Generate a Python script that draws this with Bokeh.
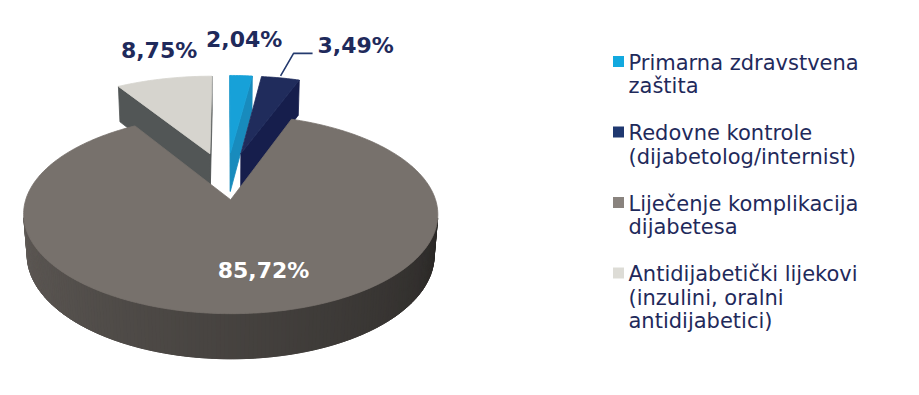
import numpy as np
from bokeh.plotting import figure
from bokeh.models import Range1d, ColumnDataSource
from bokeh.embed import file_html
from bokeh.resources import INLINE
from bokeh.core.properties import value

# ---------------- data ----------------
categories = ["Primarna zdravstvena zaštita",
              "Redovne kontrole (dijabetolog/internist)",
              "Liječenje komplikacija dijabetesa",
              "Antidijabetički lijekovi (inzulini, oralni antidijabetici)"]
shares = [2.04, 3.49, 85.72, 8.75]
share_labels = ["2,04%", "3,49%", "85,72%", "8,75%"]
legend_lines = [["Primarna zdravstvena", "zaštita"],
                ["Redovne kontrole", "(dijabetolog/internist)"],
                ["Liječenje komplikacija", "dijabetesa"],
                ["Antidijabetički lijekovi", "(inzulini, oralni", "antidijabetici)"]]

# ---------------- style ----------------
top_colors = ["#17a1d8", "#202c5c", "#77716c", "#d6d4ce"]
cut_colors = ["#188bbd", "#161e4c", "#3c3835", "#525656"]
legend_colors = ["#12a9df", "#1f3870", "#89837e", "#dddcd6"]
explode = [0.32, 0.32, 0.20, 0.32]
radius = [1.05, 1.05, 1.0, 1.05]
label_colors = ["#1f2a5b", "#1f2a5b", "#ffffff", "#1f2a5b"]
label_offsets = [(3, -36), (37, -32), (8, -42.5), (-5, -28)]
label_align = ["center", "left", "center", "center"]
label_base = ["alphabetic", "alphabetic", "middle", "alphabetic"]
TXT = "#1f2a5b"
FONT = "DejaVu Sans"

W, HPX = 919, 395
OX, OY = 226.0, 180.4
FOC = 1246.8
DIST = 6.262
ALPHA = np.radians(27.5)
DEPTH = 0.229
sa, ca = np.sin(ALPHA), np.cos(ALPHA)
cam = np.array([0.0, -DIST * ca, DIST * sa])


def proj(u, v, z):
    u = np.asarray(u, float)
    v = np.asarray(v, float)
    z = np.asarray(z, float)
    yc = v * sa + z * ca
    zc = v * ca + DIST - z * sa
    return OX + FOC * u / zc, OY - FOC * yc / zc


def shade(hexc, f):
    r, g, b = int(hexc[1:3], 16), int(hexc[3:5], 16), int(hexc[5:7], 16)
    return "#%02x%02x%02x" % (min(255, int(r * f)), min(255, int(g * f)), min(255, int(b * f)))


def band_factor(t):
    deg = np.degrees(t) % 360
    s = np.clip((deg - 100) / 160, 0, 1)
    return 0.35 + 0.45 * s ** 0.9


total = sum(shares)
bounds = np.concatenate([[0.0], np.cumsum(shares)]) / total * 2 * np.pi

xs, ys, cols = [], [], []
mids = [(bounds[i] + bounds[i + 1]) / 2 for i in range(len(shares))]
order = sorted(range(len(shares)), key=lambda i: -(explode[i] * np.cos(mids[i])))
anchors = {}
for i in order:
    a0, a1 = bounds[i], bounds[i + 1]
    m = mids[i]
    R = radius[i]
    cu, cv = explode[i] * np.sin(m), explode[i] * np.cos(m)
    n = max(3, int(np.degrees(a1 - a0) / 1.0) + 2)
    th = np.linspace(a0, a1, n)
    ru, rv = cu + R * np.sin(th), cv + R * np.cos(th)
    tx, ty = proj(ru, rv, 0 * th)
    bx, by = proj(ru, rv, -DEPTH + 0 * th)
    # outer curved side: base polygon (fills seams) then gradient strips
    vis = []
    for j in range(n - 1):
        t = (th[j] + th[j + 1]) / 2
        nu, nv = np.sin(t), np.cos(t)
        vis.append((cam[0] - cu - R * nu) * nu + (cam[1] - cv - R * nv) * nv > 0)
    idx = [j for j in range(n - 1) if vis[j]]
    if idx:
        j0, j1 = idx[0], idx[-1] + 1
        xs.append(list(tx[j0:j1 + 1]) + list(bx[j0:j1 + 1][::-1]))
        ys.append(list(ty[j0:j1 + 1]) + list(by[j0:j1 + 1][::-1]))
        cols.append(shade(top_colors[i], 0.55))
        for j in idx:
            t = (th[j] + th[j + 1]) / 2
            xs.append([tx[j], tx[j + 1], bx[j + 1], bx[j]])
            ys.append([ty[j], ty[j + 1], by[j + 1], by[j]])
            cols.append(shade(top_colors[i], band_factor(t)))
    # radial cut faces
    for ang, nrm in ((a0, (-np.cos(a0), np.sin(a0))), (a1, (np.cos(a1), -np.sin(a1)))):
        if (cam[0] - cu) * nrm[0] + (cam[1] - cv) * nrm[1] > 0:
            eu, ev = cu + R * np.sin(ang), cv + R * np.cos(ang)
            pts = [proj(cu, cv, 0), proj(eu, ev, 0), proj(eu, ev, -DEPTH), proj(cu, cv, -DEPTH)]
            xs.append([float(q[0]) for q in pts])
            ys.append([float(q[1]) for q in pts])
            cols.append(cut_colors[i])
    # top face
    cx0, cy0 = proj(cu, cv, 0)
    xs.append([float(cx0)] + list(tx))
    ys.append([float(cy0)] + list(ty))
    cols.append(top_colors[i])
    ax, ay = proj(cu + R * np.sin(m), cv + R * np.cos(m), 0)
    anchors[i] = (float(ax), float(ay))

p = figure(width=W, height=HPX, x_range=Range1d(0, W), y_range=Range1d(HPX, 0),
           output_backend="svg", toolbar_location=None, min_border=0)
p.axis.visible = False
p.grid.visible = False
p.outline_line_color = None
p.background_fill_color = "white"
p.border_fill_color = "white"

src = ColumnDataSource(dict(xs=xs, ys=ys, c=cols))
p.patches("xs", "ys", source=src, fill_color="c", line_color="c", line_width=0.8)

# value labels
for i in range(len(shares)):
    ax, ay = anchors[i]
    dx, dy = label_offsets[i]
    p.text(x=[ax + dx], y=[ay + dy], text=[share_labels[i]],
           text_font=value(FONT), text_font_size="22px", text_font_style="bold",
           text_color=label_colors[i], text_align=label_align[i], text_baseline=label_base[i])
    if label_align[i] == "left":
        lx, ly = ax + dx, ay + dy
        p.line(x=[ax, lx - 24, lx - 5], y=[ay - 2, ly + 7.5, ly + 7.5],
               line_color="#243a6e", line_width=1.6)

# legend
LEG_SQ_X, LEG_TX_X, BASE0, STEP = 618, 628, 62.0, 23.5
k = 0
sq_x, sq_y, tx_x, tx_y, tx_t = [], [], [], [], []
for g, lines in enumerate(legend_lines):
    sq_x.append(LEG_SQ_X)
    sq_y.append(BASE0 + STEP * k - 1)
    for ln in lines:
        tx_x.append(LEG_TX_X)
        tx_y.append(BASE0 + STEP * k)
        tx_t.append(ln)
        k += 1
    k += 1
p.rect(x=sq_x, y=sq_y, width=11, height=11, fill_color=legend_colors, line_color=None)
p.text(x=tx_x, y=tx_y, text=tx_t, text_font=value(FONT), text_font_size="21px",
       text_color=TXT, text_align="left", text_baseline="alphabetic")

open("out.html", "w").write(file_html(p, INLINE))
